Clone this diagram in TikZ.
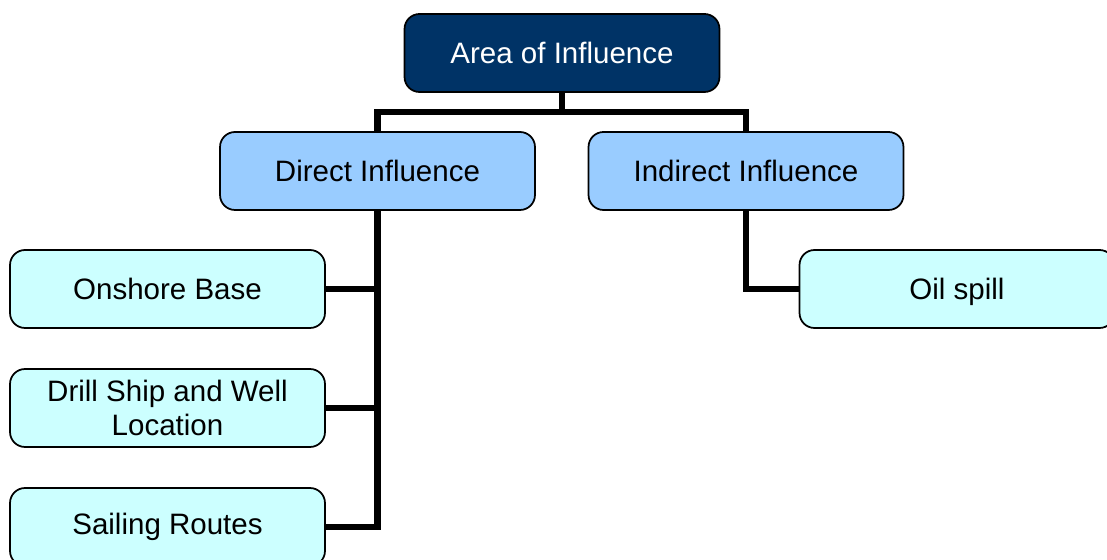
\documentclass[tikz,border=0pt]{standalone}
\usepackage{fontspec}
\setmainfont{Liberation Sans}
\usepackage{tikz}

\definecolor{navy}{HTML}{003366}
\definecolor{lightblue}{HTML}{99CCFF}
\definecolor{lightcyan}{HTML}{CCFFFF}

\begin{document}
\begin{tikzpicture}[x=0.02cm, y=-0.02cm,
  box/.style={draw=black, line width=1pt, rounded corners=0.3cm,
    minimum width=6.3cm, minimum height=1.56cm, align=center,
    font=\fontsize{16.8}{19.5}\selectfont, inner sep=0pt},
  topbox/.style={box, fill=navy, text=white},
  midbox/.style={box, fill=lightblue},
  leafbox/.style={box, fill=lightcyan},
  link/.style={draw=black, line width=3.6pt}]
          \useasboundingbox (0,0) rectangle (1107,560);
          \clip (0,0) rectangle (1107,560);
          \coordinate (bus) at (562,112);
          \node[topbox] (area) at (562,53) {Area of Influence};
          \node[midbox] (direct) at (377.5,171) {Direct Influence};
          \node[midbox] (indirect) at (746,171) {Indirect Influence};
          \node[leafbox] (onshore) at (167.5,289) {Onshore Base};
          \node[leafbox] (drill) at (167.5,408) {Drill Ship and Well\\Location};
          \node[leafbox] (sailing) at (167.5,527) {Sailing Routes};
          \node[leafbox, text depth=0pt] (oil) at (957,289) {Oil spill};
          % tree connectors
          \draw[link] (area.south) -- (bus) -| (direct.north);
          \draw[link] (bus) -| (indirect.north);
          \draw[link] (direct.south) |- (sailing.east);
          \draw[link] (direct.south) |- (onshore.east);
          \draw[link] (direct.south) |- (drill.east);
          \draw[link] (indirect.south) |- (oil.west);
        \end{tikzpicture}
\end{document}
